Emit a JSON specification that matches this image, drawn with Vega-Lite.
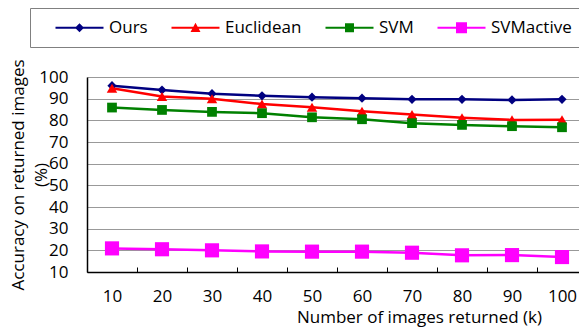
{
  "$schema": "https://vega.github.io/schema/vega-lite/v6.json",
  "width": 500,
  "height": 195,
  "autosize": {"type": "none"},
  "padding": {"left": 87, "top": 77, "right": 0, "bottom": 55},
  "config": {"font": "Open Sans", "view": {"stroke": null}},
  "data": {
    "values": [
      {"k": 10, "method": "Ours", "acc": 96.0},
      {"k": 20, "method": "Ours", "acc": 94.0},
      {"k": 30, "method": "Ours", "acc": 92.3},
      {"k": 40, "method": "Ours", "acc": 91.3},
      {"k": 50, "method": "Ours", "acc": 90.7},
      {"k": 60, "method": "Ours", "acc": 90.2},
      {"k": 70, "method": "Ours", "acc": 89.7},
      {"k": 80, "method": "Ours", "acc": 89.7},
      {"k": 90, "method": "Ours", "acc": 89.4},
      {"k": 100, "method": "Ours", "acc": 89.7},
      {"k": 10, "method": "Euclidean", "acc": 94.8},
      {"k": 20, "method": "Euclidean", "acc": 91.0},
      {"k": 30, "method": "Euclidean", "acc": 90.0},
      {"k": 40, "method": "Euclidean", "acc": 87.5},
      {"k": 50, "method": "Euclidean", "acc": 86.0},
      {"k": 60, "method": "Euclidean", "acc": 84.2},
      {"k": 70, "method": "Euclidean", "acc": 82.7},
      {"k": 80, "method": "Euclidean", "acc": 81.2},
      {"k": 90, "method": "Euclidean", "acc": 80.2},
      {"k": 100, "method": "Euclidean", "acc": 80.3},
      {"k": 10, "method": "SVM", "acc": 85.9},
      {"k": 20, "method": "SVM", "acc": 84.8},
      {"k": 30, "method": "SVM", "acc": 83.9},
      {"k": 40, "method": "SVM", "acc": 83.3},
      {"k": 50, "method": "SVM", "acc": 81.4},
      {"k": 60, "method": "SVM", "acc": 80.5},
      {"k": 70, "method": "SVM", "acc": 78.7},
      {"k": 80, "method": "SVM", "acc": 77.9},
      {"k": 90, "method": "SVM", "acc": 77.3},
      {"k": 100, "method": "SVM", "acc": 76.8},
      {"k": 10, "method": "SVMactive", "acc": 20.9},
      {"k": 20, "method": "SVMactive", "acc": 20.5},
      {"k": 30, "method": "SVMactive", "acc": 20.0},
      {"k": 40, "method": "SVMactive", "acc": 19.5},
      {"k": 50, "method": "SVMactive", "acc": 19.4},
      {"k": 60, "method": "SVMactive", "acc": 19.4},
      {"k": 70, "method": "SVMactive", "acc": 18.9},
      {"k": 80, "method": "SVMactive", "acc": 17.7},
      {"k": 90, "method": "SVMactive", "acc": 17.8},
      {"k": 100, "method": "SVMactive", "acc": 16.9}
    ]
  },
  "encoding": {
    "x": {
      "field": "k",
      "type": "ordinal",
      "scale": {"type": "band", "paddingInner": 0, "paddingOuter": 0},
      "axis": {
        "title": "Number of images returned (k)",
        "tickBand": "extent",
        "labelAngle": 0,
        "grid": false,
        "domainColor": "black",
        "domainWidth": 1.5,
        "tickColor": "black",
        "tickWidth": 1,
        "tickSize": -5,
        "labelFontSize": 17,
        "labelColor": "black",
        "labelPadding": 21,
        "titleFontSize": 17,
        "titleFontWeight": "normal",
        "titleColor": "black",
        "titleX": 332,
        "titleY": 50,
        "titleBaseline": "alphabetic",
        "titleAlign": "center"
      }
    },
    "y": {
      "field": "acc",
      "type": "quantitative",
      "scale": {"domain": [10, 100], "nice": false},
      "axis": {
        "values": [10, 20, 30, 40, 50, 60, 70, 80, 90, 100],
        "grid": true,
        "gridColor": "#999999",
        "gridWidth": 1,
        "ticks": false,
        "domainColor": "black",
        "domainWidth": 1.5,
        "labelFontSize": 17,
        "labelColor": "black",
        "labelPadding": 19,
        "title": ["Accuracy on returned images", "(%)"],
        "titleFontSize": 17,
        "titleFontWeight": "normal",
        "titleColor": "black",
        "titleX": -68.5,
        "titleY": 97.5,
        "titleBaseline": "middle",
        "titleAlign": "center",
        "titleLineHeight": 23
      }
    },
    "color": {
      "field": "method",
      "type": "nominal",
      "scale": {
        "domain": ["Ours", "Euclidean", "SVM", "SVMactive"],
        "range": ["#000080", "#ff0000", "#008000", "#ff00ff"]
      },
      "legend": {
        "orient": "none",
        "legendX": -57,
        "legendY": -69,
        "direction": "horizontal",
        "columns": 4,
        "title": null,
        "strokeColor": "#808080",
        "padding": 11,
        "labelFontSize": 17,
        "labelColor": "black",
        "symbolSize": 100,
        "symbolStrokeWidth": 0,
        "symbolOpacity": 1,
        "symbolOffset": 30,
        "labelOffset": 21,
        "columnPadding": 9
      }
    }
  },
  "layer": [
    {"mark": {"type": "line", "strokeWidth": 2.5}},
    {
      "transform": [{"filter": "datum.method === 'Ours'"}],
      "mark": {"type": "point", "filled": true, "opacity": 1, "strokeWidth": 0, "shape": "diamond", "size": 85}
    },
    {
      "transform": [{"filter": "datum.method === 'Euclidean'"}],
      "mark": {"type": "point", "filled": true, "opacity": 1, "strokeWidth": 0, "shape": "triangle-up", "size": 110}
    },
    {
      "transform": [{"filter": "datum.method === 'SVM'"}],
      "mark": {"type": "point", "filled": true, "opacity": 1, "strokeWidth": 0, "shape": "square", "size": 95}
    },
    {
      "transform": [{"filter": "datum.method === 'SVMactive'"}],
      "mark": {"type": "point", "filled": true, "opacity": 1, "strokeWidth": 0, "shape": "square", "size": 200}
    },
    {
      "transform": [{"filter": "datum.acc < 0"}],
      "mark": {"type": "point", "filled": true, "opacity": 1, "strokeWidth": 0},
      "encoding": {
        "shape": {
          "field": "method",
          "type": "nominal",
          "scale": {
            "domain": ["Ours", "Euclidean", "SVM", "SVMactive"],
            "range": [
              "M-4.8,-0.2H4.8V0.2H-4.8ZM0,-0.9L0.9,0L0,0.9L-0.9,0Z",
              "M-4.8,-0.2H4.8V0.2H-4.8ZM0,-1L1,0.85L-1,0.85Z",
              "M-4.8,-0.2H4.8V0.2H-4.8ZM-0.9,-0.9H0.9V0.9H-0.9Z",
              "M-4.8,-0.2H4.8V0.2H-4.8ZM-1.1,-1.1H1.1V1.1H-1.1Z"
            ]
          },
          "legend": {
            "orient": "none",
            "legendX": -57,
            "legendY": -69,
            "direction": "horizontal",
            "columns": 4,
            "title": null,
            "strokeColor": "#808080",
            "padding": 11,
            "labelFontSize": 17,
            "labelColor": "black",
            "symbolSize": 100,
            "symbolStrokeWidth": 0,
            "symbolOpacity": 1,
            "symbolOffset": 30,
            "labelOffset": 21,
            "columnPadding": 9
          }
        }
      }
    }
  ]
}
